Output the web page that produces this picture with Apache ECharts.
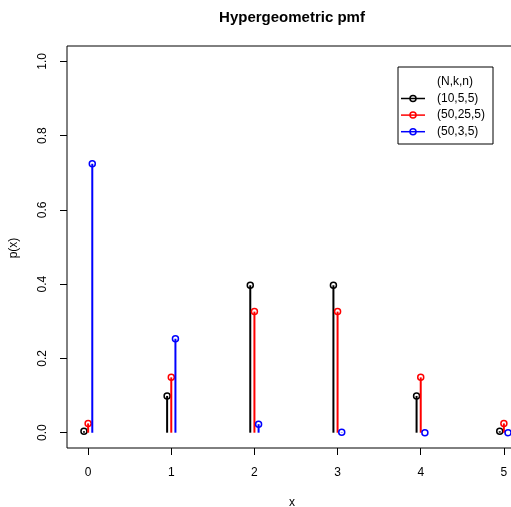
<!DOCTYPE html>
<html>
<head>
<meta charset="utf-8">
<script src="https://cdn.jsdelivr.net/npm/echarts@6/dist/echarts.min.js"></script>
<style>
html,body{margin:0;padding:0;background:#fff;}
#chart{width:511px;height:507px;}
</style>
</head>
<body>
<div id="chart"></div>
<script>
var xValues = [0, 1, 2, 3, 4, 5];
var p10_5_5 = [0.004, 0.099, 0.397, 0.397, 0.099, 0.004];
var p50_25_5 = [0.025, 0.149, 0.326, 0.326, 0.149, 0.025];
var p50_3_5 = [0.724, 0.253, 0.023, 0.001, 0.000, 0.000];
var seriesNames = ['(10,5,5)', '(50,25,5)', '(50,3,5)'];
var seriesColors = ['#000000', '#ff0000', '#0000ff'];
var seriesOffsets = [-0.05, 0, 0.05];
var xTicks = [0, 1, 2, 3, 4, 5];
var yTicks = [0, 0.2, 0.4, 0.6, 0.8, 1.0];
var yTickLabels = ['0.0', '0.2', '0.4', '0.6', '0.8', '1.0'];

var allP = [p10_5_5, p50_25_5, p50_3_5];
var FONT = 'Liberation Sans, Arial, Helvetica, sans-serif';

function makeSeries(idx) {
  var vals = allP[idx];
  var col = seriesColors[idx];
  var off = seriesOffsets[idx];
  return {
    type: 'custom',
    name: seriesNames[idx],
    clip: false,
    z: 2 + idx,
    data: xValues.map(function (x, i) { return [x + off, vals[i]]; }),
    renderItem: function (params, api) {
      var x = api.value(0), y = api.value(1);
      var top = api.coord([x, y]);
      var bot = api.coord([x, 0]);
      return {
        type: 'group',
        children: [
          { type: 'line', shape: { x1: bot[0], y1: bot[1], x2: top[0], y2: top[1] },
            style: { stroke: col, lineWidth: 2 } },
          { type: 'circle', shape: { cx: top[0], cy: top[1], r: 3 },
            style: { stroke: col, fill: 'none', lineWidth: 1.5 } }
        ]
      };
    }
  };
}

var legendChildren = [
  { type: 'rect', shape: { x: 398, y: 67, width: 95, height: 77 },
    style: { stroke: '#000', fill: '#fff', lineWidth: 1 } },
  { type: 'text', x: 455, y: 82, style: { text: '(N,k,n)', font: '12px ' + FONT, fill: '#000', textAlign: 'center', textVerticalAlign: 'middle' } }
];
seriesNames.forEach(function (nm, i) {
  var yy = 98.5 + i * 16.6;
  legendChildren.push({ type: 'line', shape: { x1: 401, y1: yy, x2: 425, y2: yy }, style: { stroke: seriesColors[i], lineWidth: 1.5 } });
  legendChildren.push({ type: 'circle', shape: { cx: 413, cy: yy, r: 3 }, style: { stroke: seriesColors[i], fill: 'none', lineWidth: 1.5 } });
  legendChildren.push({ type: 'text', x: 437, y: yy, style: { text: nm, font: '12px ' + FONT, fill: '#000', textAlign: 'left', textVerticalAlign: 'middle' } });
});

var chart = echarts.init(document.getElementById('chart'), null, { renderer: 'canvas' });
chart.setOption({
  animation: false,
  backgroundColor: '#fff',
  title: {
    text: 'Hypergeometric pmf',
    left: 287, top: 5, textAlign: 'center',
    textStyle: { fontFamily: FONT, fontWeight: 'bold', fontSize: 15, color: '#000' }
  },
  grid: { left: 67, top: 46, width: 458, height: 402, show: true, borderColor: '#000', borderWidth: 1,
    backgroundColor: 'transparent', containLabel: false, outerBoundsMode: 'none' },
  xAxis: {
    type: 'value', min: -0.254, max: 5.254,
    axisLine: { show: false, onZero: false },
    splitLine: { show: false },
    axisTick: { show: true, customValues: xTicks, length: 7, inside: false, lineStyle: { color: '#000' } },
    axisLabel: { show: true, customValues: xTicks, margin: 19, fontFamily: FONT, fontSize: 12, color: '#000',
      formatter: function (v) { return String(Math.round(v)); } }
  },
  yAxis: {
    type: 'value', min: -0.0412, max: 1.0412,
    axisLine: { show: false, onZero: false },
    splitLine: { show: false },
    axisTick: { show: true, customValues: yTicks, length: 7, inside: false, lineStyle: { color: '#000' } },
    axisLabel: { show: true, customValues: yTicks, rotate: 90, margin: 18, fontFamily: FONT, fontSize: 12, color: '#000',
      formatter: function (v) { var i = yTicks.findIndex(function (t) { return Math.abs(t - v) < 1e-6; }); return i >= 0 ? yTickLabels[i] : ''; } }
  },
  graphic: [
    { type: 'text', x: 292, y: 503, style: { text: 'x', font: '12px ' + FONT, fill: '#000', textAlign: 'center', textVerticalAlign: 'middle' } },
    { type: 'text', x: 14, y: 248, rotation: Math.PI / 2, style: { text: 'p(x)', font: '12px ' + FONT, fill: '#000', textAlign: 'center', textVerticalAlign: 'middle' } },
    { type: 'group', children: legendChildren }
  ],
  series: [makeSeries(0), makeSeries(1), makeSeries(2)]
});
</script>
</body>
</html>
